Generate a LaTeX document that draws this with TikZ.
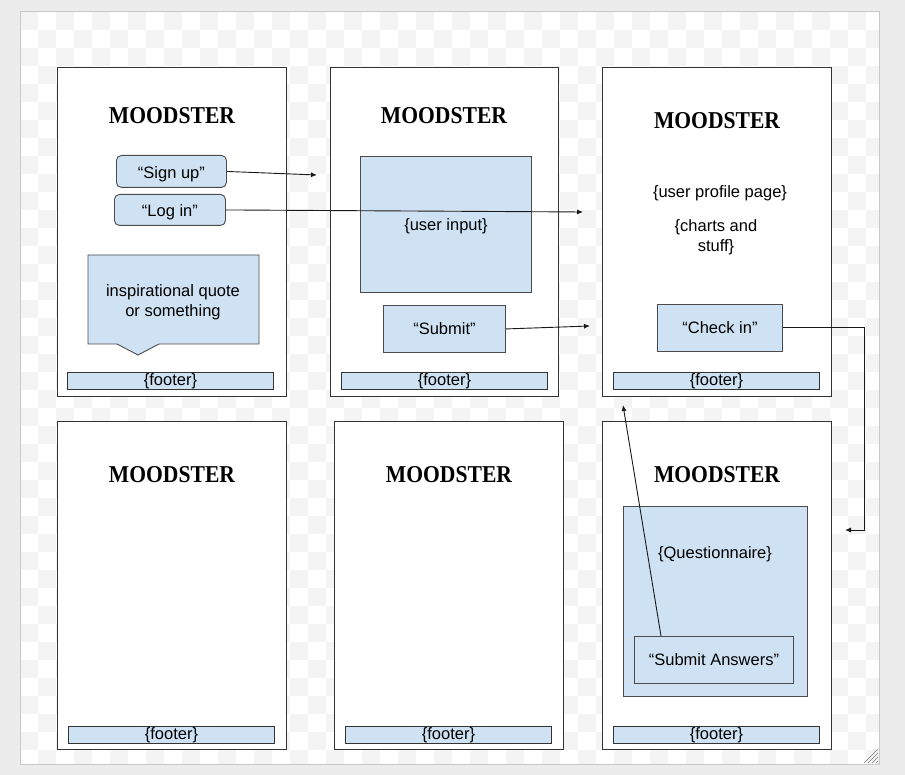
\documentclass[tikz,border=0pt]{standalone}
\usepackage{fontspec}
\usepackage{graphicx}
\newfontfamily\uisans{Liberation Sans}
\newfontfamily\titleserif{Liberation Serif}
\usetikzlibrary{arrows.meta}
\definecolor{boxfill}{HTML}{CFE2F3}
\definecolor{boxline}{HTML}{4A4A4A}
\definecolor{phoneline}{HTML}{333333}
\definecolor{chk}{HTML}{F4F4F4}
\definecolor{outerbg}{HTML}{ECECEC}
\definecolor{framecol}{HTML}{C8C8C8}
\newcommand{\apptitletext}{\scalebox{2.16}[2.42]{\titleserif\bfseries\fontsize{10}{10}\selectfont MOODSTER}}
\begin{document}
\begin{tikzpicture}[x=1pt,y=-1pt,
  txt/.style={font=\uisans\fontsize{16.5}{20}\selectfont, text=black, align=center, inner sep=0pt},
  box/.style={draw=boxline, fill=boxfill, line width=0.9pt, inner sep=0pt, anchor=north west, txt},
  lowtext/.style={text height=15.5pt, text depth=2pt},
  phone/.style={draw=phoneline, fill=white, line width=1pt, inner sep=0pt, anchor=north west},
  footbox/.style={draw=phoneline, fill=boxfill, line width=1pt, inner sep=0pt, anchor=north west,
    minimum width=206pt, minimum height=17pt, txt},
  apptitle/.style={inner sep=0pt},
  conn/.style={draw=black!90, line width=0.9pt, -{Latex[length=6pt,width=5pt]}},
]
% background
\fill[outerbg] (0,0) rectangle (905,775);
\fill[white] (20,12) rectangle (879,764);
\begin{scope}
\clip (20,12) rectangle (879,764);
\foreach \j in {0,...,41}{
  \foreach \i in {0,...,47}{
    \pgfmathtruncatemacro\s{mod(\i+\j,2)}
    \ifnum\s=0 \fill[chk] (20+18*\i,12+18*\j) rectangle ++(18,18); \fi
  }
}
\end{scope}
\draw[framecol, line width=1pt] (20,12) rectangle (879,764);
\foreach \d in {0,4,8,12}
  \draw[gray, line width=0.6pt] (864+\d,763) -- (878,749+\d);

% phones
\node[phone, minimum width=229pt, minimum height=329pt] (ph1) at (57,67) {};
\node[phone, minimum width=228pt, minimum height=329pt] (ph2) at (330,67) {};
\node[phone, minimum width=229pt, minimum height=329pt] (ph3) at (602,67) {};
\node[phone, minimum width=229pt, minimum height=328pt] (ph4) at (57,421) {};
\node[phone, minimum width=229pt, minimum height=328pt] (ph5) at (334,421) {};
\node[phone, minimum width=229pt, minimum height=328pt] (ph6) at (602,421) {};

% titles
\node[apptitle] (t1) at (172,116) {\apptitletext};
\node[apptitle] (t2) at (444,116) {\apptitletext};
\node[apptitle] (t3) at (717,121) {\apptitletext};
\node[apptitle] (t4) at (172,475) {\apptitletext};
\node[apptitle] (t5) at (449,475) {\apptitletext};
\node[apptitle] (t6) at (717,475) {\apptitletext};

% footers
\node[footbox] (f1) at (67,372) {\{footer\}};
\node[footbox] (f2) at (341,372) {\{footer\}};
\node[footbox] (f3) at (613,372) {\{footer\}};
\node[footbox] (f4) at (68,726) {\{footer\}};
\node[footbox] (f5) at (345,726) {\{footer\}};
\node[footbox] (f6) at (613,726) {\{footer\}};

% phone 1
\node[box, lowtext, rounded corners=5pt, minimum width=110pt, minimum height=32pt] (signup) at (116,155) {“Sign up”};
\node[box, lowtext, rounded corners=5pt, minimum width=111pt, minimum height=31pt] (login) at (114,194) {“Log in”};
\draw[draw=boxline, fill=boxfill, line width=0.9pt]
  (88,255) -- (259,255) -- (259,344) -- (159,344) -- (138,355) -- (117,344) -- (88,344) -- cycle;
\node[txt] (quote) at (173,302) {inspirational quote\\or something};

% phone 2
\node[box, minimum width=171pt, minimum height=136pt] (input) at (360,156) {};
\node[txt] (inputtxt) at (446,226) {\{user input\}};
\node[box, minimum width=122pt, minimum height=47pt] (submit) at (383,305) {“Submit”};

% phone 3
\node[txt] (prof) at (720,193) {\{user profile page\}};
\node[txt] (charts) at (716,237) {\{charts and\\stuff\}};
\node[box, minimum width=125pt, minimum height=47pt] (checkin) at (657,304) {“Check in”};

% phone 6
\node[box, minimum width=184pt, minimum height=190pt] (quest) at (623,506) {};
\node[txt] (questtxt) at (715,554) {\{Questionnaire\}};
\node[box, minimum width=159pt, minimum height=47pt] (subans) at (634,636) {“Submit Answers”};

% connectors
\coordinate (a1) at (317,175);
\coordinate (a2) at (583,212);
\coordinate (a3) at (590,326);
\coordinate (c4) at (864,530);
\coordinate (a4) at (845,530);
\coordinate (a5) at (623,405);
\draw[conn] (signup.east) -- (a1);
\draw[conn] (login.east) -- (a2);
\draw[conn] (submit.east) -- (a3);
\draw[conn] (checkin.east) -| (c4) -- (a4);
\draw[conn] ([xshift=27pt]subans.north west) -- (a5);
\end{tikzpicture}
\end{document}
